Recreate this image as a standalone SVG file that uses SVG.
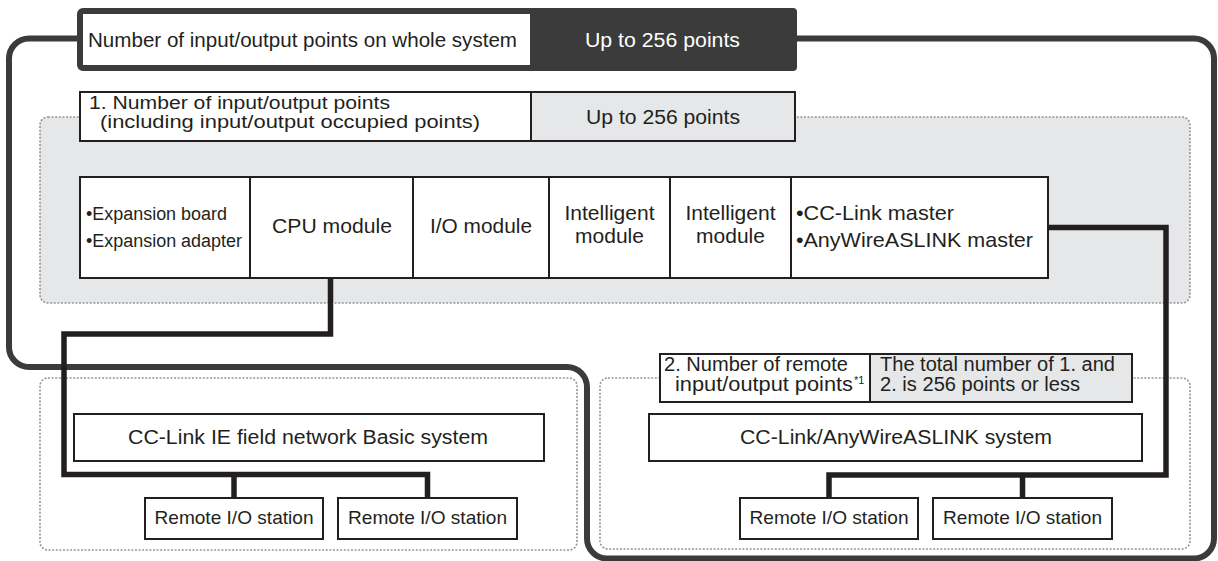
<svg xmlns="http://www.w3.org/2000/svg" width="1218" height="561" viewBox="0 0 1218 561">
<style>
text { font-family: "Liberation Sans", Arial, sans-serif; fill: #231f20; font-size: 20px; }
.box { fill: #ffffff; stroke: #231f20; stroke-width: 2; }
.gray { fill: #e6e7e8; stroke: #231f20; stroke-width: 2; }
.zone { stroke: #939598; stroke-width: 1.6; stroke-dasharray: 2 1.6; }
.wire { fill: none; stroke: #231f20; stroke-width: 5.5; stroke-linejoin: miter; stroke-linecap: butt; }
.frame { fill: none; stroke: #3b3b3b; stroke-width: 6; }
.mid { text-anchor: middle; }
.f21 { font-size: 21px; }
.f18 { font-size: 18px; }
.f19 { font-size: 19px; }
.tight { font-size: 18px; }
</style>

<g id="zones">
  <rect class="zone" x="40" y="117" width="1150" height="186" rx="8" fill="#e6e7e8"/>
  <rect class="zone" x="40" y="378" width="537" height="172" rx="8" fill="none"/>
  <rect class="zone" x="600" y="378" width="590" height="171" rx="8" fill="none"/>
</g>

<g id="system-frame">
  <path class="frame" d="M80,38.5 H29 A20,20 0 0 0 9,58.5 V347 A20,20 0 0 0 29,367 H567 A20,20 0 0 1 587,387 V538.5 A20,20 0 0 0 607,558.5 H1194 A20,20 0 0 0 1214,538.5 V58.5 A20,20 0 0 0 1194,38.5 H794"/>
</g>

<g id="header">
  <rect x="80" y="11" width="714" height="57" rx="3" fill="#ffffff" stroke="#3b3b3b" stroke-width="6"/>
  <rect x="530" y="8" width="267" height="63" rx="4" fill="#3b3b3b"/>
  <text x="88" y="47" textLength="429" lengthAdjust="spacingAndGlyphs">Number of input/output points on whole system</text>
  <text x="662.5" y="47" class="mid" textLength="155" lengthAdjust="spacingAndGlyphs" style="fill:#ffffff">Up to 256 points</text>
</g>

<g id="section1">
  <rect class="box" x="80" y="92" width="451" height="49"/>
  <rect class="gray" x="531" y="92" width="264" height="49"/>
  <text x="89" y="109" class="tight" textLength="301" lengthAdjust="spacingAndGlyphs">1. Number of input/output points</text>
  <text x="100" y="128" class="tight" textLength="380" lengthAdjust="spacingAndGlyphs">(including input/output occupied points)</text>
  <text x="663" y="124" class="mid" textLength="154" lengthAdjust="spacingAndGlyphs">Up to 256 points</text>
</g>

<g id="module-expansion">
  <rect class="box" x="80" y="177" width="170" height="101"/>
  <text x="86" y="220" class="f18" textLength="141" lengthAdjust="spacingAndGlyphs">•Expansion board</text>
  <text x="86" y="247" class="f18" textLength="156" lengthAdjust="spacingAndGlyphs">•Expansion adapter</text>
</g>
<g id="module-cpu">
  <rect class="box" x="250" y="177" width="163" height="101"/>
  <text x="332" y="233" class="f21 mid" textLength="120" lengthAdjust="spacingAndGlyphs">CPU module</text>
</g>
<g id="module-io">
  <rect class="box" x="413" y="177" width="136" height="101"/>
  <text x="481" y="233" class="f21 mid" textLength="102" lengthAdjust="spacingAndGlyphs">I/O module</text>
</g>
<g id="module-intelligent-1">
  <rect class="box" x="549" y="177" width="121" height="101"/>
  <text x="609.5" y="220" class="f21 mid" textLength="90" lengthAdjust="spacingAndGlyphs">Intelligent</text>
  <text x="609.5" y="243" class="f21 mid">module</text>
</g>
<g id="module-intelligent-2">
  <rect class="box" x="670" y="177" width="121" height="101"/>
  <text x="730.5" y="220" class="f21 mid" textLength="90" lengthAdjust="spacingAndGlyphs">Intelligent</text>
  <text x="730.5" y="243" class="f21 mid">module</text>
</g>
<g id="module-master">
  <rect class="box" x="791" y="177" width="257" height="101"/>
  <text x="796" y="220" class="f21" textLength="158" lengthAdjust="spacingAndGlyphs">•CC-Link master</text>
  <text x="796" y="246.5" class="f21" textLength="237" lengthAdjust="spacingAndGlyphs">•AnyWireASLINK master</text>
</g>

<g id="section2">
  <rect class="box" x="660" y="354" width="210" height="48"/>
  <rect class="gray" x="870" y="354" width="262" height="48"/>
  <text x="664" y="371" textLength="184" lengthAdjust="spacingAndGlyphs">2. Number of remote</text>
  <text x="675" y="391" textLength="178" lengthAdjust="spacingAndGlyphs">input/output points</text>
  <text x="854" y="384" style="font-size:11px">*1</text>
  <text x="880" y="371" textLength="235" lengthAdjust="spacingAndGlyphs">The total number of 1. and</text>
  <text x="880" y="391" textLength="200" lengthAdjust="spacingAndGlyphs">2. is 256 points or less</text>
</g>

<g id="cc-link-ie-system">
  <rect class="box" x="74" y="414" width="470" height="47"/>
  <text x="308" y="444" class="mid" textLength="360" lengthAdjust="spacingAndGlyphs">CC-Link IE field network Basic system</text>
</g>
<g id="cc-link-anywire-system">
  <rect class="box" x="649" y="414" width="493" height="47"/>
  <text x="896" y="444" class="mid" textLength="312" lengthAdjust="spacingAndGlyphs">CC-Link/AnyWireASLINK system</text>
</g>

<g id="remote-io-1">
  <rect class="box" x="145" y="498" width="178" height="41"/>
  <text x="234" y="524" class="f19 mid" textLength="159" lengthAdjust="spacingAndGlyphs">Remote I/O station</text>
</g>
<g id="remote-io-2">
  <rect class="box" x="338" y="498" width="179" height="41"/>
  <text x="427.5" y="524" class="f19 mid" textLength="159" lengthAdjust="spacingAndGlyphs">Remote I/O station</text>
</g>
<g id="remote-io-3">
  <rect class="box" x="740" y="498" width="178" height="41"/>
  <text x="829" y="524" class="f19 mid" textLength="159" lengthAdjust="spacingAndGlyphs">Remote I/O station</text>
</g>
<g id="remote-io-4">
  <rect class="box" x="933" y="498" width="179" height="41"/>
  <text x="1022.5" y="524" class="f19 mid" textLength="159" lengthAdjust="spacingAndGlyphs">Remote I/O station</text>
</g>

<g id="connectors">
  <path class="wire" d="M330.5,278 V334 H64 V474.5 H427.5 V498"/>
  <path class="wire" d="M234,474.5 V498"/>
  <path class="wire" d="M1048,227.5 H1166 V475 H829 V498"/>
  <path class="wire" d="M1022.5,475 V498"/>
</g>
</svg>
